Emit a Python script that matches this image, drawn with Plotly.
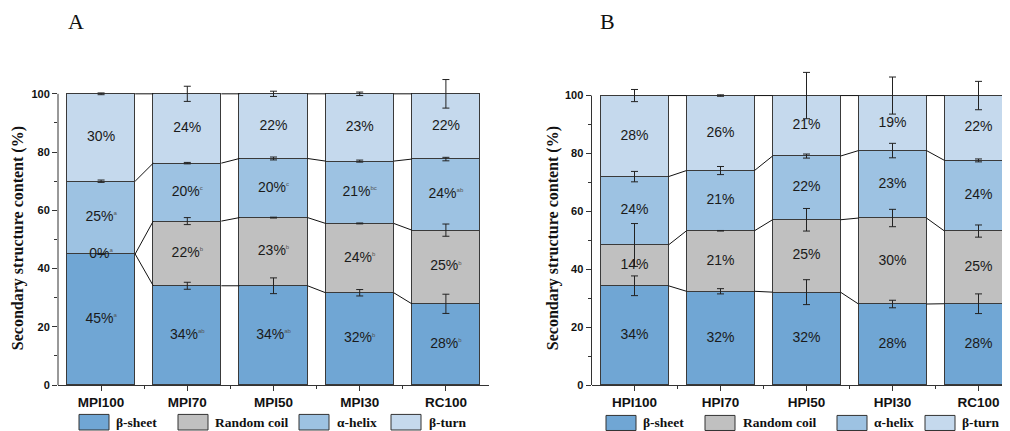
import plotly.graph_objects as go
import numpy as np

# ---------------- data ----------------
series = ["β-sheet", "Random coil", "α-helix", "β-turn"]
colors = ["#70A6D4", "#C0C0C0", "#9DC2E2", "#C5D9ED"]

cats_A = ["MPI100", "MPI70", "MPI50", "MPI30", "RC100"]
A_sheet = [45.0, 34.1, 34.1, 31.7, 27.9]
A_coil = [0.0, 22.2, 23.4, 23.8, 25.3]
A_helix = [25.0, 19.9, 20.3, 21.4, 24.4]
A_turn = [30.0, 23.8, 22.2, 23.1, 22.4]
A_sheet_err = [0.0, 1.2, 2.7, 1.1, 3.3]
A_coil_err = [0.0, 1.2, 0.15, 0.15, 2.1]
A_helix_err = [0.4, 0.25, 0.5, 0.35, 0.6]
A_turn_err = [0.3, 2.6, 0.9, 0.6, 4.9]
A_sheet_sig = ["a", "ab", "ab", "b", "b"]
A_coil_sig = ["a", "b", "b", "b", "b"]
A_helix_sig = ["a", "c", "c", "bc", "ab"]
A_turn_sig = ["", "", "", "", ""]

cats_B = ["HPI100", "HPI70", "HPI50", "HPI30", "RC100"]
B_sheet = [34.3, 32.4, 32.1, 28.0, 28.1]
B_coil = [14.1, 20.9, 25.0, 29.7, 25.1]
B_helix = [23.6, 20.8, 22.0, 23.3, 24.4]
B_turn = [28.0, 25.9, 20.9, 19.0, 22.4]
B_sheet_err = [3.4, 0.9, 4.3, 1.3, 3.4]
B_coil_err = [7.4, 0.1, 3.9, 3.0, 2.1]
B_helix_err = [1.8, 1.4, 0.7, 2.5, 0.5]
B_turn_err = [2.1, 0.25, 8.0, 6.4, 4.9]
B_sig = ["", "", "", "", ""]

# page offset (body margin) and the vertical squeeze seen in the photograph
OFF = 8
SY = 439.0 / 431.0
W, H = 1010 - OFF, 431
def fx(px):
    return (px - OFF) / W
def fy(py):
    return 1 - (py * SY - OFF) / H

SANS = "Arial, Liberation Sans, sans-serif"
SERIF = "Times New Roman, Liberation Serif, serif"
BAR_W = 0.79
EDGE = "#3a3a3a"

fig = go.Figure()

panels = [
    dict(cats=cats_A, vals=[A_sheet, A_coil, A_helix, A_turn],
         errs=[A_sheet_err, A_coil_err, A_helix_err, A_turn_err],
         sigs=[A_sheet_sig, A_coil_sig, A_helix_sig, A_turn_sig],
         xa="x", ya="y"),
    dict(cats=cats_B, vals=[B_sheet, B_coil, B_helix, B_turn],
         errs=[B_sheet_err, B_coil_err, B_helix_err, B_turn_err],
         sigs=[B_sig, B_sig, B_sig, B_sig],
         xa="x2", ya="y2"),
]

for p in panels:
    xs = list(range(len(p["cats"])))
    vals = np.array(p["vals"])
    cum = np.cumsum(vals, axis=0)
    for k in range(4):
        fig.add_bar(x=xs, y=vals[k], width=BAR_W, xaxis=p["xa"], yaxis=p["ya"],
                    marker=dict(color=colors[k], line=dict(color=EDGE, width=1)),
                    showlegend=False, hoverinfo="skip")
    # connector lines between neighbouring bars
    cx, cy = [], []
    for k in range(4):
        for i in range(len(xs) - 1):
            cx += [xs[i] + BAR_W / 2, xs[i + 1] - BAR_W / 2, None]
            cy += [cum[k][i], cum[k][i + 1], None]
    fig.add_scatter(x=cx, y=cy, mode="lines", xaxis=p["xa"], yaxis=p["ya"],
                    line=dict(color="#111", width=1), showlegend=False, hoverinfo="skip")
    # error bars at the top of each segment
    for k in range(4):
        fig.add_scatter(x=xs, y=cum[k], mode="markers", xaxis=p["xa"], yaxis=p["ya"],
                        marker=dict(size=1, opacity=0),
                        error_y=dict(type="data", array=p["errs"][k], color="#222",
                                     thickness=1, width=3.5),
                        showlegend=False, hoverinfo="skip")
    # percentage labels
    for k in range(4):
        mids = cum[k] - vals[k] / 2
        txt = []
        for i in range(len(xs)):
            s = f"{vals[k][i]:.0f}%"
            sig = p["sigs"][k][i]
            if sig:
                s += f"<sup><span style='font-size:6px;color:#555'>{sig}</span></sup>"
            txt.append(s)
        fig.add_scatter(x=xs, y=mids, mode="text", text=txt, xaxis=p["xa"], yaxis=p["ya"],
                        textposition="middle center",
                        textfont=dict(family=SANS, size=14, color="#1a1a1a"),
                        showlegend=False, hoverinfo="skip", cliponaxis=False)

xcommon = dict(tickvals=[0, 1, 2, 3, 4], ticks="outside", ticklen=5, tickcolor="#333",
               tickwidth=1, showline=True, linecolor="#333", linewidth=1,
               showgrid=False, zeroline=False, fixedrange=True,
               tickfont=dict(family=SANS, size=13.5, color="#111", weight="bold"),
               minor=dict(tickvals=[0.5, 1.5, 2.5, 3.5], ticks="outside", ticklen=3,
                          tickcolor="#333", showgrid=False))
ycommon = dict(tickvals=[0, 20, 40, 60, 80, 100], ticks="outside", ticklen=5, tickcolor="#333",
               tickwidth=1, showline=False, showgrid=False, zeroline=False, fixedrange=True,
               tickfont=dict(family=SANS, size=11, color="#111", weight="bold"),
               minor=dict(tickvals=[10, 30, 50, 70, 90], ticks="outside", ticklen=3,
                          tickcolor="#333", showgrid=False))

fig.update_layout(
    width=W, height=H, margin=dict(l=0, r=0, t=0, b=0),
    paper_bgcolor="white", plot_bgcolor="white", barmode="stack", bargap=0,
    xaxis=dict(domain=[fx(58), fx(489)], range=[-0.5, 4.5], ticktext=cats_A, anchor="y", **xcommon),
    yaxis=dict(domain=[fy(383.3), fy(67.2)], range=[0, 109], anchor="x", **ycommon),
    xaxis2=dict(domain=[fx(591.5), 1.0], range=[-0.5, -0.5 + (1010 - 591.5) / 86.0],
                ticktext=cats_B, anchor="y2", **xcommon),
    yaxis2=dict(domain=[fy(383.3), fy(66.2)], range=[0, 110], anchor="x2", **ycommon),
)

shapes = []
# y axis lines (0 to 100)
for xr, yr in [("x domain", "y"), ("x2 domain", "y2")]:
    shapes.append(dict(type="line", xref=xr, yref=yr, x0=0, x1=0, y0=0, y1=100,
                       line=dict(color="#333", width=1)))

annotations = []
# legends
leg_A = [(79, 114), (178, 213), (299, 335), (391, 427)]
leg_B = [(606, 641), (705, 741), (837, 872), (925, 960)]
for leg, y0, y1 in [(leg_A, 412.5, 428), (leg_B, 413.5, 428.5)]:
    for k, (sx, tx) in enumerate(leg):
        shapes.append(dict(type="rect", xref="paper", yref="paper",
                           x0=fx(sx), x1=fx(sx + 30), y0=fy(y1), y1=fy(y0),
                           fillcolor=colors[k], line=dict(color="#333", width=1)))
        annotations.append(dict(xref="paper", yref="paper", x=fx(tx), y=fy((y0 + y1) / 2),
                                text=series[k], showarrow=False, xanchor="left", yanchor="middle",
                                font=dict(family=SERIF, size=13.5, color="#111", weight="bold")))

# y titles
for xpx in [18, 553]:
    annotations.append(dict(xref="paper", yref="paper", x=fx(xpx), y=fy(237),
                            text="Secondary structure content (%)", textangle=-90,
                            showarrow=False, xanchor="center", yanchor="middle",
                            font=dict(family=SERIF, size=16, color="#111", weight="bold")))
# panel letters
for xpx, lab in [(76, "A"), (607, "B")]:
    annotations.append(dict(xref="paper", yref="paper", x=fx(xpx), y=fy(21), text=lab,
                            showarrow=False, xanchor="center", yanchor="middle",
                            font=dict(family=SERIF, size=22, color="#111")))

fig.update_layout(shapes=shapes, annotations=annotations)
fig.write_html("out.html")
